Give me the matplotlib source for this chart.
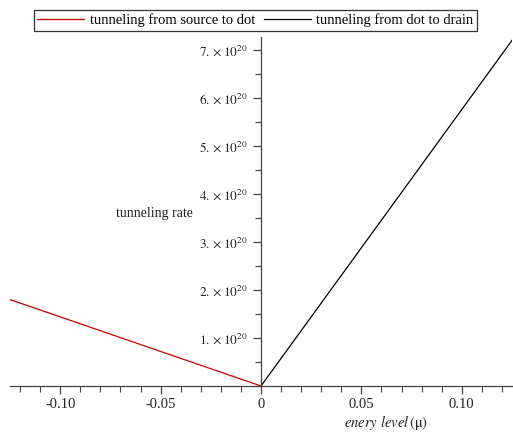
import numpy as np
import matplotlib.pyplot as plt
from matplotlib.ticker import MultipleLocator, FixedLocator

plt.rcParams['font.family'] = ['Liberation Serif', 'DejaVu Serif']
plt.rcParams['mathtext.fontset'] = 'stix'

# tunneling rates vs energy level of the dot
mu_src = [-0.125, 0.0]
rate_src = [1.8e20, 0.0]
mu_drain = [0.0, 0.125]
rate_drain = [0.0, 7.2e20]

xticks = [-0.10, -0.05, 0.0, 0.05, 0.10]
xticklabels = ['-0.10', '-0.05', '0', '0.05', '0.10']
yticks = [1e20, 2e20, 3e20, 4e20, 5e20, 6e20, 7e20]
yticklabels = [r'$%d.\times10^{20}$' % k for k in range(1, 8)]

fig = plt.figure(figsize=(5.13, 4.33), dpi=100)
ax = fig.add_axes([10 / 513, 47 / 433, 502 / 513, 349 / 433])

l1, = ax.plot(mu_src, rate_src, color='#cc0000', lw=0.9)
l2, = ax.plot(mu_drain, rate_drain, color='black', lw=0.9)

ax.set_xlim(-0.125, 0.125)
ax.set_ylim(0, 7.27e20)

for s in ['top', 'right']:
    ax.spines[s].set_visible(False)
ax.spines['left'].set_position(('data', 0))
ax.spines['bottom'].set_position(('data', 0))
for s in ['left', 'bottom']:
    ax.spines[s].set_color('#444444')
    ax.spines[s].set_linewidth(0.9)

ax.xaxis.set_major_locator(FixedLocator(xticks))
ax.set_xticklabels(xticklabels)
ax.xaxis.set_minor_locator(MultipleLocator(0.01))
ax.yaxis.set_major_locator(FixedLocator(yticks))
ax.set_yticklabels(yticklabels)
ax.yaxis.set_minor_locator(MultipleLocator(0.5e20))
ax.tick_params(which='both', direction='out', color='#444444', labelcolor='#222222')
ax.tick_params(which='major', length=6, width=0.9)
ax.tick_params(which='minor', length=4, width=0.8)
ax.tick_params(axis='x', pad=3, labelsize=10.5)
ax.tick_params(axis='y', labelsize=9.5)

fig.text(193 / 513, 1 - 213 / 433, 'tunneling rate', ha='right', va='center',
         fontsize=10, color='#222222')
fig.text(386 / 513, 1 - 422 / 433, r'$\it{enery\ level}\,(\mathrm{\mu})$',
         ha='center', va='center', fontsize=10.5, color='#222222')

leg = fig.legend([l1, l2], ['tunneling from source to dot', 'tunneling from dot to drain'],
                 loc='center', bbox_to_anchor=(255.5 / 513, 1 - 20.5 / 433), ncol=2,
                 fontsize=10.5, frameon=True, fancybox=False, handlelength=3.2,
                 handletextpad=0.4, columnspacing=0.6, borderpad=0.25,
                 borderaxespad=0)
leg.get_frame().set_edgecolor('black')
leg.get_frame().set_linewidth(0.9)

fig.savefig('out.png', dpi=100)
